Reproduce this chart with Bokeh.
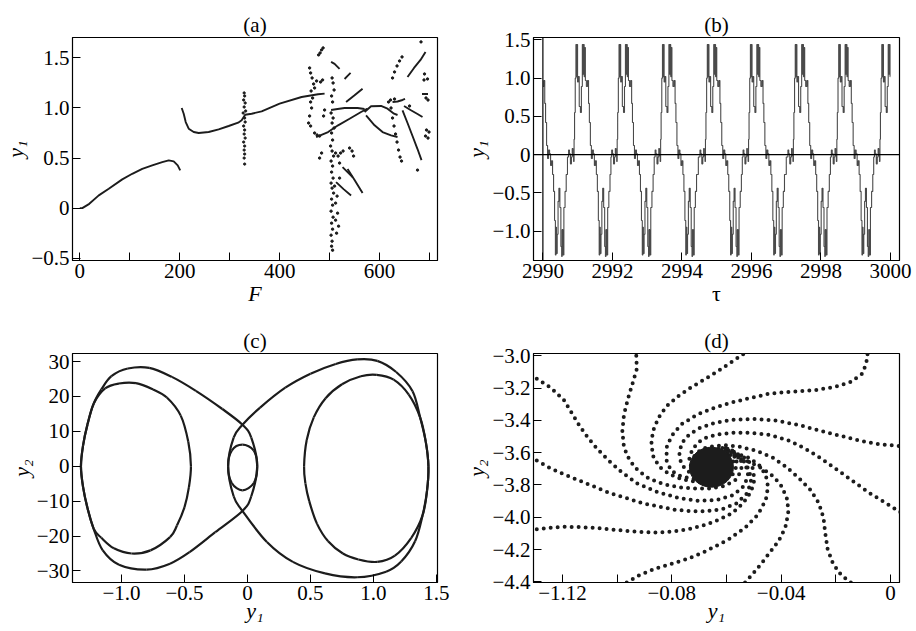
import numpy as np
from bokeh.plotting import figure
from bokeh.layouts import gridplot
from bokeh.models import FixedTicker, Span, Range1d, ColumnDataSource
from bokeh.embed import file_html
from bokeh.resources import INLINE

SERIF = "Liberation Serif"
INK = "#1c1c1c"

# ---------------- (a) bifurcation diagram y1 vs F ----------------
a_low_F = [0, 5, 19, 38, 58, 85, 105, 125, 145, 165, 178, 188, 196, 201]
a_low_y = [0.0, 0.0, 0.043, 0.127, 0.193, 0.287, 0.343, 0.393, 0.427, 0.46, 0.477, 0.467, 0.427, 0.377]

a_mid_F = [204, 208, 212, 218, 228, 238, 258, 278, 298, 317, 324, 331, 344, 364, 400, 444, 477, 490]
a_mid_y = [1.0, 0.943, 0.86, 0.793, 0.76, 0.75, 0.76, 0.787, 0.82, 0.853, 0.877, 0.933, 0.943, 0.967,
           1.043, 1.11, 1.137, 1.143]

a_seg_F = [[503, 510, 520], [530, 536, 542], [533, 550, 566], [503, 516, 530, 543, 556, 570],
           [473, 497, 517, 540, 563, 576], [570, 583, 603, 616, 629, 636], [573, 590, 606, 623, 636],
           [626, 636, 646, 651], [649, 662, 676, 686], [646, 656, 666, 676, 684],
           [656, 669, 682, 692], [685, 690, 697], [526, 536, 546], [536, 550, 566], [513, 528, 543]]
a_seg_y = [[1.46, 1.44, 1.39], [1.29, 1.32, 1.35], [1.06, 1.127, 1.193], [0.98, 0.99, 1.0, 1.0, 1.0, 0.99],
           [0.71, 0.76, 0.827, 0.893, 0.96, 0.993], [0.96, 1.017, 1.02, 0.993, 0.943, 0.93],
           [0.927, 0.827, 0.76, 0.727, 0.71], [1.06, 1.065, 1.08, 1.09], [1.02, 0.98, 0.94, 0.91],
           [0.977, 0.85, 0.72, 0.59, 0.48], [1.31, 1.40, 1.48, 1.56], [1.14, 1.14, 1.14],
           [0.41, 0.36, 0.31], [0.39, 0.28, 0.15], [0.26, 0.19, 0.127]]

a_vert_F = [329, 330, 328, 331, 329, 332, 327, 330, 331, 328, 330, 329, 331, 328, 330, 329, 330, 329, 330]
a_vert_y = [1.15, 1.12, 1.08, 1.05, 1.01, 0.97, 0.95, 0.90, 0.86, 0.82, 0.78, 0.74, 0.70, 0.66, 0.62,
            0.58, 0.54, 0.50, 0.44]

a_dot_F = [460, 462, 465, 468, 470, 463, 466, 462, 464, 460, 458, 462, 470, 475, 480, 484, 480, 481, 484,
           487, 478, 486, 482, 474, 490, 488,
           505, 507, 509, 504, 506, 503, 507, 505, 509, 504, 506, 502, 505, 508, 503, 506, 504, 507, 503,
           505, 508, 504, 506, 503, 507, 504, 506, 503, 505, 504, 506,
           512, 517, 522, 527, 520, 510, 515, 512, 516, 512, 518, 514, 520, 540, 545, 548,
           689, 696, 690, 693, 697, 694, 699, 692, 697, 676, 660, 683,
           623, 626, 629, 632, 635, 638, 641, 644,
           626, 630, 635, 640, 645, 618, 622, 630]
a_dot_y = [1.40, 1.35, 1.30, 1.24, 1.20, 1.17, 1.10, 1.06, 1.00, 0.92, 0.85, 0.82, 0.75, 0.73, 0.72, 0.55,
           0.50, 1.55, 1.58, 1.60, 1.53, 1.28, 1.26, 1.27, 0.98, 0.92,
           1.30, 1.25, 1.18, 1.12, 1.06, 0.95, 0.90, 0.85, 0.80, 0.75, 0.68, 0.62, 0.57, 0.52, 0.47, 0.42,
           0.36, 0.30, 0.25, 0.20, 0.15, 0.09, 0.03, -0.03, -0.09, -0.15, -0.21, -0.27, -0.33, -0.38, -0.42,
           0.55, 0.52, 0.55, 0.57, 0.45, 0.22, 0.12, 0.05, -0.05, -0.12, -0.18, -0.25, 0.30, 0.60, 0.57, 0.52,
           1.28, 1.29, 1.34, 1.10, 1.08, 0.78, 0.76, 0.72, 0.70, 0.38, 1.02, 1.66,
           1.00, 0.90, 0.82, 0.74, 0.66, 0.58, 0.51, 0.47,
           1.30, 1.36, 1.42, 1.47, 1.51, 1.06, 1.08, 1.09]

# ---------------- (b) time series y1(tau) ----------------
# one cycle of the periodic orbit: time offsets and y1 turning points
b_cycle_dt = [0.0, 0.019, 0.048, 0.077, 0.105, 0.124, 0.144, 0.163, 0.172, 0.191, 0.211, 0.230, 0.245,
              0.258, 0.278, 0.297, 0.335, 0.364, 0.392, 0.418, 0.431, 0.450, 0.465, 0.478, 0.507, 0.536,
              0.574, 0.593, 0.622, 0.651, 0.679, 0.708, 0.737, 0.766, 0.794, 0.823, 0.852, 0.880, 0.900,
              0.915, 0.928, 0.957, 0.976, 1.005, 1.033, 1.062, 1.078, 1.091, 1.12, 1.148, 1.187, 1.215]
b_cycle_y1 = [-0.03, 0.06, 0.01, -0.12, -0.03, 0.08, -0.01, -0.09, 0.20, 0.55, 1.00, 1.44, 1.02,
              1.44, 0.95, 1.02, 0.63, 0.55, 0.89, 1.44, 1.05, 1.44, 1.02, 1.40, 0.97, 0.89,
              0.97, 0.67, 0.42, 0.12, -0.05, 0.06, 0.01, -0.14, -0.08, -0.26, -0.48, -0.86, -1.31,
              -0.95, -1.29, -1.04, -0.61, -0.44, -0.69, -1.20, -1.33, -0.98, -1.31, -0.69, -0.48, -0.26]
b_cycle_starts = [2989.47, 2990.73, 2991.97, 2993.22, 2994.51, 2995.75, 2997.04, 2998.29, 2999.53]

# ---------------- (c) phase portrait y2 vs y1 (closed loops) ----------------
c_left_outer_x = [-0.04, -0.20, -0.41, -0.60, -0.78, -0.95, -1.08, -1.16, -1.22, -1.27, -1.305, -1.322,
                  -1.305, -1.27, -1.22, -1.15, -1.02, -0.80, -0.615, -0.46, -0.256, -0.04, 0.03, 0.077, 0.03]
c_left_outer_y = [11.9, 16.4, 21.6, 25.6, 28.2, 28.0, 25.8, 22.0, 18.0, 12.0, 6.0, 0.0,
                  -6.0, -12.0, -18.0, -24.0, -28.2, -29.6, -27.9, -24.6, -18.9, -12.8, -8.6, 0.0, 8.2]
c_right_outer_x = [-0.04, 0.10, 0.30, 0.50, 0.70, 0.87, 1.03, 1.18, 1.31, 1.37, 1.415, 1.436, 1.425,
                   1.39, 1.33, 1.22, 1.10, 0.87, 0.615, 0.36, 0.154, -0.04, -0.11, -0.154, -0.11]
c_right_outer_y = [11.9, 16.8, 22.5, 26.5, 29.3, 30.6, 30.2, 27.0, 21.5, 14.0, 7.0, 0.0, -7.0,
                   -14.0, -21.5, -27.3, -30.2, -31.8, -30.7, -27.4, -21.7, -12.8, -8.6, 0.0, 8.2]
c_left_inner_x = [-0.885, -0.75, -0.64, -0.53, -0.47, -0.449, -0.465, -0.50, -0.56, -0.615, -0.77, -0.92,
                  -1.06, -1.16, -1.22, -1.27, -1.305, -1.322, -1.305, -1.27, -1.22, -1.13, -1.02]
c_left_inner_y = [23.8, 22.0, 19.7, 14.5, 7.0, 0.0, -6.0, -11.7, -17.0, -20.3, -24.1, -25.0,
                  -23.5, -20.5, -18.0, -12.0, -6.0, 0.0, 6.0, 12.0, 18.0, 22.3, 23.7]
c_right_inner_x = [0.449, 0.47, 0.526, 0.62, 0.75, 0.90, 1.026, 1.16, 1.28, 1.37, 1.415, 1.436, 1.425,
                   1.39, 1.30, 1.17, 1.03, 0.88, 0.757, 0.64, 0.552, 0.49, 0.46]
c_right_inner_y = [0.0, 7.5, 14.0, 19.5, 23.5, 25.8, 26.2, 24.8, 20.5, 14.0, 7.0, 0.0, -7.0,
                   -14.0, -20.5, -25.6, -27.4, -26.7, -25.0, -21.5, -16.5, -10.0, -5.0]
c_center_x = [0.077, 0.05, -0.04, -0.125, -0.154, -0.125, -0.04, 0.05]
c_center_y = [0.0, 4.5, 6.2, 4.5, 0.0, -4.8, -6.9, -4.8]

# ---------------- (d) trajectories spiralling into a focus ----------------
d_arms_x = [
    [-0.1294, -0.1242, -0.1195, -0.1166, -0.1137, -0.1107, -0.1072, -0.1031, -0.0984, -0.0926, -0.0855,
     -0.0773, -0.0703, -0.0633, -0.0574, -0.0533, -0.0521, -0.0533, -0.0560, -0.0598],
    [-0.0930, -0.0928, -0.0942, -0.0960, -0.0975, -0.0981, -0.0975, -0.0954, -0.0924, -0.0883, -0.0831,
     -0.0772, -0.0719, -0.0661, -0.0609, -0.0568, -0.0545, -0.0547, -0.0572, -0.0607],
    [-0.0539, -0.0580, -0.0633, -0.0680, -0.0732, -0.0779, -0.0820, -0.0849, -0.0869, -0.0875, -0.0867,
     -0.0844, -0.0808, -0.0762, -0.0709, -0.0656, -0.0609, -0.0574, -0.0560, -0.0572, -0.0600, -0.0633],
    [-0.0084, -0.0089, -0.0104, -0.0145, -0.0204, -0.0274, -0.0356, -0.0438, -0.0520, -0.0591, -0.0649,
     -0.0708, -0.0766, -0.0801, -0.0819, -0.0819, -0.0803, -0.0767, -0.0721, -0.0668, -0.0621, -0.0586,
     -0.0574, -0.0586, -0.0612, -0.0644],
    [0.0030, -0.0040, -0.0110, -0.0180, -0.0251, -0.0333, -0.0415, -0.0497, -0.0579, -0.0644, -0.0697,
     -0.0736, -0.0762, -0.0773, -0.0767, -0.0750, -0.0721, -0.0680, -0.0635, -0.0600, -0.0586, -0.0595,
     -0.0619, -0.0647],
    [0.0036, -0.0016, -0.0075, -0.0134, -0.0192, -0.0251, -0.0309, -0.0368, -0.0438, -0.0508, -0.0579,
     -0.0633, -0.0674, -0.0705, -0.0726, -0.0736, -0.0729, -0.0709, -0.0680, -0.0644, -0.0615, -0.0602,
     -0.0612, -0.0633],
    [-0.0145, -0.0180, -0.0210, -0.0230, -0.0239, -0.0245, -0.0262, -0.0292, -0.0333, -0.0380, -0.0432,
     -0.0491, -0.0550, -0.0598, -0.0644, -0.0685, -0.0715, -0.0724, -0.0724, -0.0709, -0.0680],
    [-0.0532, -0.0503, -0.0473, -0.0441, -0.0409, -0.0385, -0.0374, -0.0377, -0.0397, -0.0426, -0.0467,
     -0.0514, -0.0562, -0.0609, -0.0650, -0.0685, -0.0709, -0.0715, -0.0703, -0.0680],
    [-0.0965, -0.0919, -0.0860, -0.0801, -0.0743, -0.0684, -0.0649, -0.0591, -0.0532, -0.0485, -0.0456,
     -0.0448, -0.0456, -0.0479, -0.0516, -0.0557, -0.0598],
    [-0.1294, -0.1247, -0.1200, -0.1141, -0.1083, -0.1024, -0.0965, -0.0907, -0.0848, -0.0790, -0.0731,
     -0.0673, -0.0626, -0.0579, -0.0539, -0.0510, -0.0498, -0.0503, -0.0521, -0.0551, -0.0586],
    [-0.1294, -0.1247, -0.1200, -0.1141, -0.1083, -0.1024, -0.0965, -0.0907, -0.0848, -0.0790, -0.0731,
     -0.0673, -0.0614, -0.0562, -0.0525, -0.0510, -0.0516, -0.0537, -0.0568],
]
d_arms_y = [
    [-3.142, -3.199, -3.274, -3.355, -3.436, -3.507, -3.578, -3.649, -3.720, -3.791, -3.842, -3.882,
     -3.899, -3.892, -3.862, -3.801, -3.730, -3.659, -3.604, -3.574],
    [-3.000, -3.081, -3.162, -3.264, -3.365, -3.467, -3.568, -3.649, -3.710, -3.761, -3.795, -3.815,
     -3.822, -3.822, -3.807, -3.771, -3.710, -3.645, -3.592, -3.568],
    [-2.990, -3.037, -3.097, -3.146, -3.199, -3.254, -3.314, -3.385, -3.467, -3.548, -3.629, -3.690,
     -3.734, -3.765, -3.781, -3.785, -3.771, -3.730, -3.669, -3.613, -3.578, -3.564],
    [-2.990, -3.051, -3.112, -3.162, -3.193, -3.213, -3.223, -3.233, -3.264, -3.294, -3.325, -3.365,
     -3.426, -3.497, -3.568, -3.649, -3.710, -3.746, -3.763, -3.765, -3.751, -3.714, -3.659, -3.609,
     -3.580, -3.572],
    [-3.558, -3.548, -3.527, -3.497, -3.467, -3.430, -3.402, -3.391, -3.396, -3.416, -3.446, -3.487,
     -3.538, -3.598, -3.659, -3.706, -3.734, -3.744, -3.734, -3.706, -3.659, -3.613, -3.588, -3.584],
    [-3.968, -3.913, -3.852, -3.781, -3.710, -3.639, -3.578, -3.527, -3.491, -3.477, -3.477, -3.487,
     -3.507, -3.538, -3.584, -3.639, -3.690, -3.720, -3.730, -3.724, -3.700, -3.659, -3.619, -3.598],
    [-4.404, -4.359, -4.288, -4.197, -4.095, -4.004, -3.913, -3.832, -3.761, -3.690, -3.629, -3.588,
     -3.564, -3.554, -3.558, -3.574, -3.609, -3.659, -3.714, -3.761, -3.785],
    [-4.404, -4.349, -4.288, -4.217, -4.146, -4.065, -3.974, -3.892, -3.811, -3.751, -3.700, -3.659,
     -3.629, -3.613, -3.613, -3.629, -3.665, -3.710, -3.751, -3.775],
    [-4.404, -4.359, -4.318, -4.288, -4.258, -4.217, -4.187, -4.136, -4.065, -3.984, -3.892, -3.811,
     -3.740, -3.680, -3.633, -3.609, -3.598],
    [-4.075, -4.065, -4.059, -4.061, -4.065, -4.075, -4.085, -4.091, -4.095, -4.087, -4.071, -4.045,
     -4.014, -3.974, -3.913, -3.842, -3.771, -3.700, -3.645, -3.613, -3.598],
    [-3.649, -3.694, -3.730, -3.771, -3.811, -3.852, -3.882, -3.913, -3.933, -3.953, -3.963, -3.963,
     -3.949, -3.913, -3.852, -3.781, -3.710, -3.653, -3.619],
]
d_focus_x = [-0.0655]
d_focus_y = [-3.69]


def closed_bezier(xs, ys):
    """Smooth closed curve through the points as cubic Bezier pieces (Catmull-Rom tangents)."""
    x = np.asarray(xs, dtype=float)
    y = np.asarray(ys, dtype=float)
    n = len(x)
    i = np.arange(n)
    xp, yp = x[i - 1], y[i - 1]
    xn, yn = x[(i + 1) % n], y[(i + 1) % n]
    xnn, ynn = x[(i + 2) % n], y[(i + 2) % n]
    return dict(x0=x, y0=y, x1=xn, y1=yn,
                cx0=x + (xn - xp) / 6.0, cy0=y + (yn - yp) / 6.0,
                cx1=xn - (xnn - x) / 6.0, cy1=yn - (ynn - y) / 6.0)


def dress(p, title, xt, xl, yt, yl, xlabel, ylabel, xminor=None, xlabel_style="italic",
          xlabel_standoff=0):
    p.title.text = title
    p.title.align = "center"
    p.title.text_font = SERIF
    p.title.text_font_size = "21px"
    p.title.text_font_style = "normal"
    p.title.text_color = "black"
    p.title.standoff = 2
    p.outline_line_color = "black"
    p.outline_line_width = 1.2
    p.outline_line_alpha = 1.0
    p.background_fill_color = "white"
    p.border_fill_color = "white"
    p.xgrid.visible = False
    p.ygrid.visible = False
    p.xaxis.ticker = FixedTicker(ticks=xt, minor_ticks=xminor or [])
    p.xaxis.major_label_overrides = {t: s for t, s in zip(xt, xl)}
    p.yaxis.ticker = FixedTicker(ticks=yt, minor_ticks=[])
    p.yaxis.major_label_overrides = {t: s for t, s in zip(yt, yl)}
    p.xaxis.axis_label = xlabel
    p.yaxis.axis_label = ylabel
    for ax in (p.xaxis[0], p.yaxis[0]):
        ax.major_tick_in = 8
        ax.major_tick_out = 0
        ax.minor_tick_in = 8
        ax.minor_tick_out = 0
        ax.axis_line_color = "black"
        ax.major_tick_line_color = "black"
        ax.minor_tick_line_color = "black"
        ax.major_label_text_font = SERIF
        ax.major_label_text_font_size = "21px"
        ax.major_label_text_color = "black"
        ax.major_label_standoff = 3
        ax.axis_label_text_font = SERIF
        ax.axis_label_text_font_size = "22px"
        ax.axis_label_text_color = "black"
        ax.axis_label_text_font_style = "italic"
        ax.axis_label_standoff = 0
    p.xaxis.axis_label_text_font_style = xlabel_style
    p.xaxis.axis_label_standoff = xlabel_standoff


def fig(w, h, xr, yr, left, right, top, bottom):
    return figure(width=w, height=h, x_range=Range1d(*xr), y_range=Range1d(*yr),
                  min_border_left=left, min_border_right=right, min_border_top=top,
                  min_border_bottom=bottom, toolbar_location=None, output_backend="svg")


# (a)
pa = fig(458, 315, (-14.6, 716.0), (-0.523, 1.704), 70, 21, 37, 55)
pa.line(a_low_F, a_low_y, line_color=INK, line_width=1.9)
pa.line(a_mid_F, a_mid_y, line_color=INK, line_width=1.9)
pa.multi_line(a_seg_F, a_seg_y, line_color=INK, line_width=1.9)
pa.scatter(a_vert_F, a_vert_y, size=2.3, color=INK)
pa.scatter(a_dot_F, a_dot_y, size=2.4, color=INK)
dress(pa, "(a)", [0, 200, 400, 600], ["0", "200", "400", "600"],
      [-0.5, 0, 0.5, 1.0, 1.5], ["\u22120.5", "0", "0.5", "1.0", "1.5"],
      "F", "y\u2081", xminor=[100, 300, 500, 700])

# (b)
pb = fig(458, 315, (2989.73, 3000.26), (-1.383, 1.531), 74, 17, 37, 55)
tau = np.concatenate([s + np.asarray(b_cycle_dt) for s in b_cycle_starts])
y1 = np.tile(np.asarray(b_cycle_y1), len(b_cycle_starts))
keep = (tau >= 2990.0) & (tau <= 3000.0)
pb.add_layout(Span(location=0, dimension="width", line_color="black", line_width=1.2))
pb.add_layout(Span(location=2990, dimension="height", line_color="black", line_width=1.2))
pb.step(tau[keep], y1[keep], mode="center", line_color="#4a4a4a", line_width=1.1)
dress(pb, "(b)", [2990, 2992, 2994, 2996, 2998, 3000],
      ["2990", "2992", "2994", "2996", "2998", "3000"],
      [-1.0, -0.5, 0, 0.5, 1.0, 1.5], ["\u22121.0", "\u22120.5", "0", "0.5", "1.0", "1.5"],
      "\u03c4", "y\u2081", xlabel_style="normal")

# (c)
pc = fig(458, 316, (-1.389, 1.508), (-33.3, 32.3), 72, 9, 38, 48)
for cx, cy in [(c_left_outer_x, c_left_outer_y), (c_right_outer_x, c_right_outer_y),
               (c_left_inner_x, c_left_inner_y), (c_right_inner_x, c_right_inner_y),
               (c_center_x, c_center_y)]:
    src = ColumnDataSource(closed_bezier(cx, cy))
    pc.bezier(x0="x0", y0="y0", x1="x1", y1="y1", cx0="cx0", cy0="cy0", cx1="cx1", cy1="cy1",
              source=src, line_color=INK, line_width=2.2)
dress(pc, "(c)", [-1.0, -0.5, 0, 0.5, 1.0, 1.5], ["\u22121.0", "\u22120.5", "0", "0.5", "1.0", "1.5"],
      [-30, -20, -10, 0, 10, 20, 30], ["\u221230", "\u221220", "\u221210", "0", "10", "20", "30"],
      "y\u2081", "y\u2082", xlabel_standoff=-5)

# (d)
pd_ = fig(458, 316, (-0.1306, 0.0033), (-4.404, -2.986), 75, 2, 34, 49)
pd_.multi_line(d_arms_x, d_arms_y, line_color=INK, line_width=4.0, line_dash="0 7", line_cap="round")
pd_.ellipse(d_focus_x, d_focus_y, width=44, height=40, width_units="screen", height_units="screen",
            fill_color=INK, line_color=INK)
dress(pd_, "(d)", [-0.12, -0.08, -0.04, 0], ["\u22121.12", "\u22120.08", "\u22120.04", "0"],
      [-4.4, -4.2, -4.0, -3.8, -3.6, -3.4, -3.2, -3.0],
      ["\u22124.4", "\u22124.2", "\u22124.0", "\u22123.8", "\u22123.6", "\u22123.4", "\u22123.2", "\u22123.0"],
      "y\u2081", "y\u2082", xminor=[-0.1, -0.06, -0.02], xlabel_standoff=-5)

grid = gridplot([[pa, pb], [pc, pd_]], toolbar_location=None)
open("out.html", "w").write(file_html(grid, INLINE))
